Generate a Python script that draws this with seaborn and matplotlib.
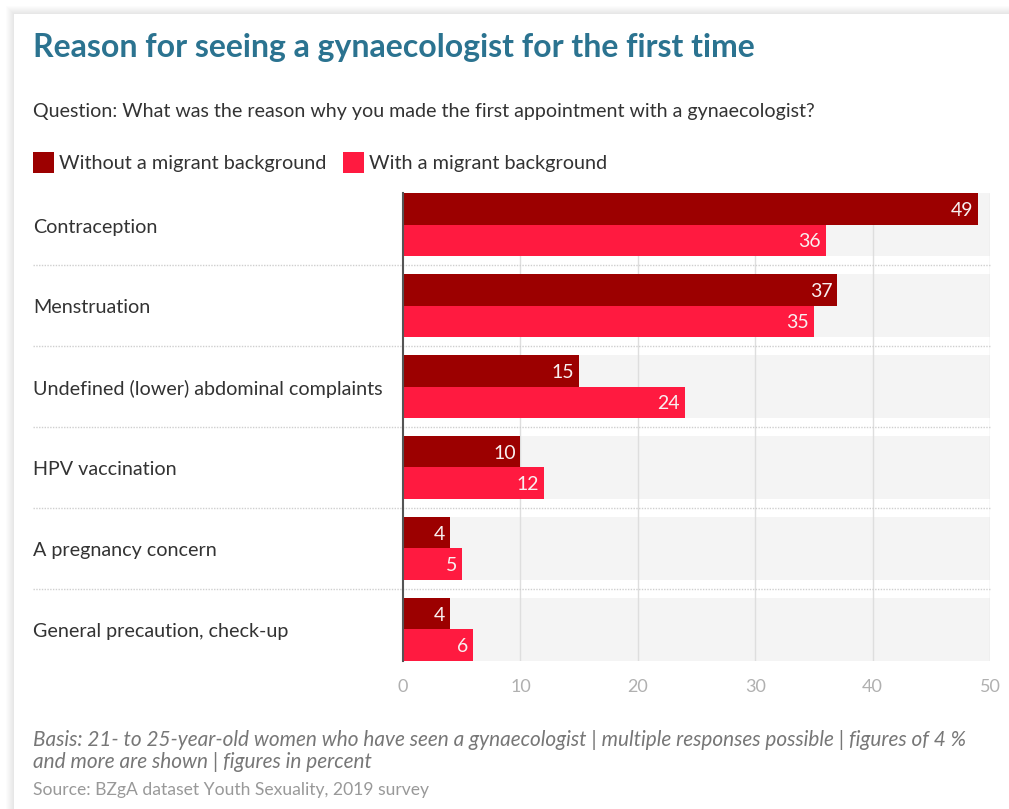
import matplotlib
matplotlib.use("Agg")
import matplotlib.pyplot as plt
import matplotlib.transforms as mtransforms
from matplotlib.patches import Rectangle
import seaborn as sns
import pandas as pd

categories = ["Contraception", "Menstruation", "Undefined (lower) abdominal complaints",
              "HPV vaccination", "A pregnancy concern", "General precaution, check-up"]
without_migrant = [49, 37, 15, 10, 4, 4]
with_migrant = [36, 35, 24, 12, 5, 6]
series_names = ["Without a migrant background", "With a migrant background"]
xticks = [0, 10, 20, 30, 40, 50]

title = "Reason for seeing a gynaecologist for the first time"
question = "Question: What was the reason why you made the first appointment with a gynaecologist?"
basis = ("Basis: 21- to 25-year-old women who have seen a gynaecologist | multiple responses possible | figures of 4 %\n"
         "and more are shown | figures in percent")
source = "Source: BZgA dataset Youth Sexuality, 2019 survey"

dark = "#9c0000"
light = "#ff1a40"

df = pd.DataFrame({
    "category": categories * 2,
    "value": without_migrant + with_migrant,
    "series": [series_names[0]] * len(categories) + [series_names[1]] * len(categories),
})

sns.set_style("white")
plt.rcParams["font.family"] = ["Lato", "DejaVu Sans"]

W, H = 1009, 809
fig = plt.figure(figsize=(W / 100, H / 100), dpi=100)
fig.patch.set_facecolor("white")

# card shadow
for k in range(8):
    off = 8 - k
    fig.patches.append(Rectangle(((14 - off) / W, -0.1), 2, (H - 14 + off) / H + 0.1,
                                 transform=fig.transFigure, facecolor="#000000", alpha=0.012,
                                 edgecolor="none", zorder=0))
fig.patches.append(Rectangle((14 / W, -0.1), 2, (H - 14) / H + 0.1,
                             transform=fig.transFigure, facecolor="white",
                             edgecolor="none", zorder=0.5))

x0, x1 = 403, 990
y_top, y_bot = 193, 661
ax = fig.add_axes([x0 / W, 1 - y_bot / H, (x1 - x0) / W, (y_bot - y_top) / H])
ax.set_facecolor("none")
ax.set_zorder(3)

half = 0.39
for i in range(len(categories)):
    ax.axhspan(i - half, i + half, xmin=0, xmax=1, color="#f4f4f4", zorder=0, lw=0)

sns.barplot(data=df, y="category", x="value", hue="series", orient="h",
            palette=[dark, light], width=2 * half, ax=ax, zorder=3,
            saturation=1, legend=False, edgecolor="none", linewidth=0)

for t in xticks[1:]:
    ax.axvline(t, color="#dedede", lw=1.0, zorder=1)

ax.set_xlim(0, 50)
ax.set_ylim(len(categories) - 1 + half, -half)
ax.set_xticks(xticks)
ax.set_xticklabels([str(t) for t in xticks])
ax.tick_params(axis="x", length=0, pad=13, labelsize=13, labelcolor="#b0b0b0")
ax.set_yticks([])
ax.set_xlabel("")
ax.set_ylabel("")
for s in ["top", "right", "bottom"]:
    ax.spines[s].set_visible(False)
ax.spines["left"].set_color("#555555")
ax.spines["left"].set_linewidth(1.5)
ax.spines["left"].set_zorder(5)

# separators
sep_x0 = (33 - x0) / (x1 - x0)
for i in range(len(categories) - 1):
    ax.axhline(i + 0.5, xmin=sep_x0, xmax=1, color="#cfcfcf", lw=1.0,
               linestyle=(0, (1, 1)), clip_on=False, zorder=1)

# value labels
for p in list(ax.patches):
    if isinstance(p, Rectangle) and p.get_height() < 1 and p.get_width() > 0 and p.get_zorder() >= 3:
        w = p.get_width()
        yc = p.get_y() + p.get_height() / 2
        ax.text(w - 0.4, yc + 0.02, f"{w:.0f}", ha="right", va="center", color="#f8f0f0",
                fontsize=14, zorder=6)

# category labels
trans = mtransforms.blended_transform_factory(fig.transFigure, ax.transData)
for i, c in enumerate(categories):
    ax.text(33 / W, i + 0.03, c, transform=trans, ha="left", va="center",
            fontsize=14.2, color="#333333", clip_on=False)

# titles
fig.text(33 / W, 1 - 48 / H, title, ha="left", va="center", fontsize=23,
         fontweight="bold", color="#2b7390")
fig.text(33 / W, 1 - 112 / H, question, ha="left", va="center", fontsize=14.1,
         color="#333333")

# legend
for xs, name, col in [(33, series_names[0], dark), (343, series_names[1], light)]:
    fig.patches.append(Rectangle((xs / W, 1 - 173 / H), 21 / W, 21 / H,
                                 transform=fig.transFigure, facecolor=col,
                                 edgecolor="none", zorder=2))
    fig.text((xs + 26) / W, 1 - 163 / H, name, ha="left", va="center",
             fontsize=14.3, color="#333333")

fig.text(33 / W, 1 - 751 / H, basis, ha="left", va="center", fontsize=14.95,
         style="italic", color="#777777", linespacing=1.12)
fig.text(33 / W, 1 - 790 / H, source, ha="left", va="center", fontsize=12.6,
         color="#999999")

fig.savefig("out.png", dpi=100, facecolor="white")
